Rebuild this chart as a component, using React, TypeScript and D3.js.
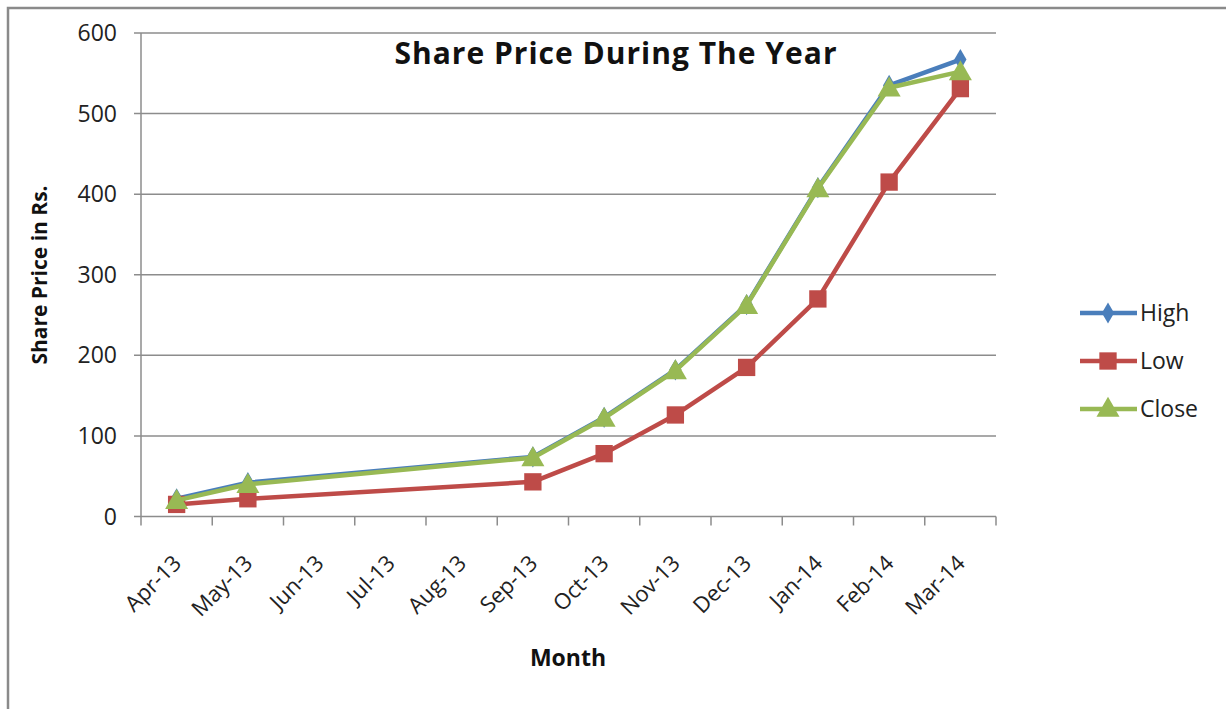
import React, { useEffect, useRef } from 'react';
import * as d3 from 'd3';

const months = ['Apr-13', 'May-13', 'Jun-13', 'Jul-13', 'Aug-13', 'Sep-13', 'Oct-13', 'Nov-13', 'Dec-13', 'Jan-14', 'Feb-14', 'Mar-14'];
const highValues: (number | null)[] = [22, 42, null, null, null, 74, 123, 182, 263, 408, 535, 567];
const lowValues: (number | null)[] = [15, 22, null, null, null, 43, 78, 126, 185, 270, 415, 531];
const closeValues: (number | null)[] = [20, 40, null, null, null, 73, 122, 181, 262, 407, 532, 552];
const yTicks = [0, 100, 200, 300, 400, 500, 600];

interface Series {
  name: string;
  values: (number | null)[];
  color: string;
  marker: 'diamond' | 'square' | 'triangle';
}

const series: Series[] = [
  { name: 'High', values: highValues, color: '#4A7EBB', marker: 'diamond' },
  { name: 'Low', values: lowValues, color: '#BE4B48', marker: 'square' },
  { name: 'Close', values: closeValues, color: '#98B954', marker: 'triangle' },
];

const FONT = '"Open Sans", Lato, sans-serif';

const App: React.FC = () => {
  const svgRef = useRef<SVGSVGElement>(null);

  useEffect(() => {
    if (!svgRef.current) return;
    const width = 1226;
    const height = 709;
    const svg = d3.select(svgRef.current);
    svg.selectAll('*').remove();
    svg.attr('width', width).attr('height', height);

    const plot = { left: 141, right: 996, top: 33, bottom: 516.5 };

    // outer frame
    svg
      .append('rect')
      .attr('x', 8)
      .attr('y', 8)
      .attr('width', 1240)
      .attr('height', 720)
      .attr('fill', 'white')
      .attr('stroke', '#8a8a8a')
      .attr('stroke-width', 2.5);

    const x = d3.scaleBand<string>().domain(months).range([plot.left, plot.right]);
    const y = d3.scaleLinear().domain([0, 600]).range([plot.bottom, plot.top]);

    // gridlines
    svg
      .append('g')
      .selectAll('line')
      .data(yTicks)
      .enter()
      .append('line')
      .attr('x1', plot.left - 7)
      .attr('x2', plot.right)
      .attr('y1', (d) => y(d))
      .attr('y2', (d) => y(d))
      .attr('stroke', '#8c8c8c')
      .attr('stroke-width', 1.5);

    // y axis line
    svg
      .append('line')
      .attr('x1', plot.left)
      .attr('x2', plot.left)
      .attr('y1', plot.top)
      .attr('y2', plot.bottom)
      .attr('stroke', '#8c8c8c')
      .attr('stroke-width', 1.5);

    // x ticks at category boundaries
    const boundaries = months.map((m) => x(m) as number).concat([plot.right]);
    svg
      .append('g')
      .selectAll('line')
      .data(boundaries)
      .enter()
      .append('line')
      .attr('x1', (d) => d)
      .attr('x2', (d) => d)
      .attr('y1', plot.bottom)
      .attr('y2', plot.bottom + 9)
      .attr('stroke', '#8c8c8c')
      .attr('stroke-width', 1.5);

    // y tick labels
    svg
      .append('g')
      .selectAll('text')
      .data(yTicks)
      .enter()
      .append('text')
      .attr('x', 117)
      .attr('y', (d) => y(d))
      .attr('dy', '0.35em')
      .attr('text-anchor', 'end')
      .style('font-family', FONT)
      .style('font-size', '23px')
      .style('fill', '#222')
      .text((d) => d);

    // x tick labels, rotated
    svg
      .append('g')
      .selectAll('text')
      .data(months)
      .enter()
      .append('text')
      .attr('transform', (d) => {
        const cx = (x(d) as number) + x.bandwidth() / 2 + 6;
        return `translate(${cx},${plot.bottom + 48}) rotate(-45)`;
      })
      .attr('text-anchor', 'end')
      .style('font-family', FONT)
      .style('font-size', '22px')
      .style('fill', '#222')
      .text((d) => d);

    // axis titles
    svg
      .append('text')
      .attr('transform', `translate(47,275) rotate(-90)`)
      .attr('text-anchor', 'middle')
      .style('font-family', FONT)
      .style('font-size', '21px')
      .style('font-weight', 'bold')
      .style('fill', '#111')
      .text('Share Price in Rs.');

    svg
      .append('text')
      .attr('x', 568)
      .attr('y', 666)
      .attr('text-anchor', 'middle')
      .style('font-family', FONT)
      .style('font-size', '23px')
      .style('font-weight', 'bold')
      .style('fill', '#111')
      .text('Month');

    // title
    svg
      .append('text')
      .attr('x', 616)
      .attr('y', 64)
      .attr('text-anchor', 'middle')
      .style('font-family', FONT)
      .style('font-size', '30px')
      .style('font-weight', 'bold')
      .style('letter-spacing', '1px')
      .style('fill', '#111')
      .text('Share Price During The Year');

    const symbolFor = (m: Series['marker']) => {
      if (m === 'diamond') return d3.symbol().type(d3.symbolDiamond).size(130)();
      if (m === 'square') return d3.symbol().type(d3.symbolSquare).size(300)();
      return d3.symbol().type(d3.symbolTriangle).size(230)();
    };

    const cxOf = (i: number) => (x(months[i]) as number) + x.bandwidth() / 2;

    series.forEach((s) => {
      const pts = s.values
        .map((v, i) => ({ v, i }))
        .filter((p) => p.v !== null) as { v: number; i: number }[];
      const line = d3
        .line<{ v: number; i: number }>()
        .x((p) => cxOf(p.i))
        .y((p) => y(p.v));
      svg
        .append('path')
        .attr('d', line(pts) as string)
        .attr('fill', 'none')
        .attr('stroke', s.color)
        .attr('stroke-width', 4.5)
        .attr('stroke-linejoin', 'round');
      svg
        .append('g')
        .selectAll('path')
        .data(pts)
        .enter()
        .append('path')
        .attr('d', symbolFor(s.marker))
        .attr('transform', (p) => `translate(${cxOf(p.i)},${y(p.v) + (s.marker === 'triangle' ? 2 : 0)})`)
        .attr('fill', s.color);
    });

    // legend
    const legend = svg.append('g');
    series.forEach((s, i) => {
      const ly = 313 + i * 48;
      legend
        .append('line')
        .attr('x1', 1080)
        .attr('x2', 1137)
        .attr('y1', ly)
        .attr('y2', ly)
        .attr('stroke', s.color)
        .attr('stroke-width', 4.5);
      legend
        .append('path')
        .attr('d', symbolFor(s.marker))
        .attr('transform', `translate(1108,${ly + (s.marker === 'triangle' ? 1 : 0)})`)
        .attr('fill', s.color);
      legend
        .append('text')
        .attr('x', 1140)
        .attr('y', ly)
        .attr('dy', '0.35em')
        .style('font-family', FONT)
        .style('font-size', '23px')
        .style('fill', '#222')
        .text(s.name);
    });
  }, []);

  return (
    <div style={{ position: 'absolute', left: 0, top: 0 }}>
      <svg ref={svgRef} style={{ display: 'block' }} />
    </div>
  );
};

export default App;
